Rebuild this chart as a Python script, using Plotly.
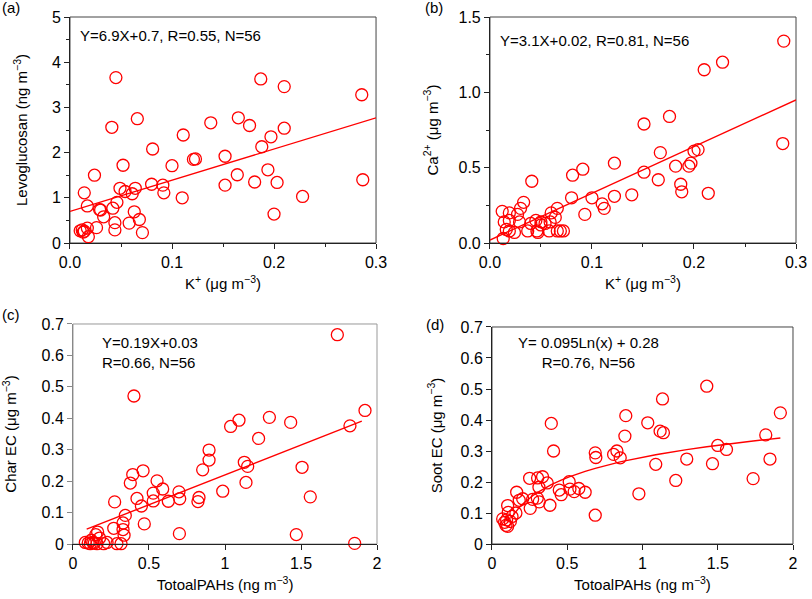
import numpy as np
import plotly.graph_objects as go

# (a) K+ vs Levoglucosan
k_a = [0.045, 0.187, 0.210, 0.286, 0.041, 0.066, 0.138, 0.165, 0.176, 0.111,
       0.197, 0.210, 0.081, 0.188, 0.152, 0.121, 0.123, 0.100, 0.052, 0.024,
       0.164, 0.194, 0.181, 0.203, 0.152, 0.287, 0.228, 0.200, 0.110, 0.092,
       0.091, 0.080, 0.064, 0.061, 0.054, 0.049, 0.014, 0.017, 0.029, 0.033,
       0.042, 0.046, 0.063, 0.068, 0.058, 0.044, 0.044, 0.071, 0.026, 0.017,
       0.012, 0.014, 0.018, 0.010, 0.013, 0.030]
levo = [3.66, 3.63, 3.46, 3.28, 2.56, 2.75, 2.66, 2.77, 2.60, 2.39,
        2.35, 2.54, 2.08, 2.13, 1.92, 1.85, 1.86, 1.71, 1.72, 1.50,
        1.51, 1.62, 1.35, 1.34, 1.28, 1.40, 1.03, 0.64, 1.00, 1.11,
        1.28, 1.30, 1.21, 1.09, 1.14, 1.21, 1.11, 0.82, 0.74, 0.58,
        0.77, 0.90, 0.69, 0.52, 0.44, 0.45, 0.29, 0.23, 0.34, 0.33,
        0.29, 0.26, 0.14, 0.27, 0.24, 0.73]

# (b) K+ vs Ca2+
k_b = [0.288, 0.228, 0.210, 0.176, 0.151, 0.287, 0.167, 0.200, 0.204, 0.197,
       0.195, 0.182, 0.151, 0.165, 0.187, 0.188, 0.214, 0.122, 0.122, 0.139,
       0.091, 0.081, 0.100, 0.110, 0.112, 0.093, 0.080, 0.041, 0.033, 0.030,
       0.027, 0.066, 0.060, 0.064, 0.012, 0.019, 0.014, 0.019, 0.029, 0.016,
       0.024, 0.013, 0.040, 0.045, 0.050, 0.054, 0.059, 0.037, 0.046, 0.047,
       0.058, 0.066, 0.069, 0.072, 0.019, 0.050]
ca = [1.34, 1.20, 1.15, 0.84, 0.79, 0.66, 0.60, 0.61, 0.62, 0.53,
      0.51, 0.51, 0.47, 0.42, 0.39, 0.34, 0.33, 0.53, 0.31, 0.32,
      0.49, 0.45, 0.30, 0.26, 0.23, 0.19, 0.30, 0.41, 0.27, 0.23,
      0.19, 0.23, 0.20, 0.17, 0.21, 0.20, 0.14, 0.15, 0.14, 0.09,
      0.07, 0.03, 0.13, 0.15, 0.14, 0.13, 0.14, 0.08, 0.08, 0.07,
      0.08, 0.08, 0.08, 0.08, 0.08, 0.12]

# (c) Total PAHs vs Char EC
pah_c = [1.739, 0.401, 1.921, 1.822, 1.432, 1.292, 1.092, 1.037, 1.221, 0.895,
         0.895, 0.853, 1.127, 1.149, 1.138, 1.507, 1.561, 1.469, 1.853, 0.985,
         0.700, 0.697, 0.702, 0.829, 0.822, 0.627, 0.590, 0.553, 0.528, 0.528,
         0.461, 0.393, 0.377, 0.421, 0.450, 0.469, 0.274, 0.344, 0.329, 0.329,
         0.336, 0.268, 0.162, 0.175, 0.081, 0.114, 0.140, 0.158, 0.202, 0.224,
         0.289, 0.316, 0.130, 0.100, 0.120, 0.150]
char_ec = [0.666, 0.471, 0.425, 0.376, 0.387, 0.403, 0.394, 0.374, 0.336, 0.299,
           0.267, 0.236, 0.260, 0.247, 0.196, 0.244, 0.150, 0.030, 0.002, 0.168,
           0.033, 0.166, 0.144, 0.148, 0.135, 0.136, 0.175, 0.201, 0.162, 0.137,
           0.233, 0.221, 0.194, 0.145, 0.121, 0.064, 0.134, 0.091, 0.067, 0.046,
           0.028, 0.050, 0.038, 0.019, 0.005, 0.001, 0.003, 0.001, 0.001, 0.005,
           0.001, 0.001, 0.005, 0.003, 0.012, 0.030]

# (d) Total PAHs vs Soot EC
pah_d = [1.427, 1.133, 1.916, 0.394, 0.889, 1.035, 1.117, 1.139, 0.883, 1.819,
         0.409, 0.686, 0.690, 0.830, 0.808, 0.852, 1.500, 1.558, 1.088, 1.294,
         1.465, 1.847, 1.735, 1.221, 0.976, 0.686, 0.513, 0.518, 0.546, 0.577,
         0.619, 0.447, 0.460, 0.367, 0.336, 0.303, 0.250, 0.312, 0.385, 0.314,
         0.301, 0.270, 0.254, 0.204, 0.181, 0.164, 0.159, 0.133, 0.104, 0.108,
         0.071, 0.097, 0.093, 0.122, 0.104, 0.084]
soot_ec = [0.509, 0.468, 0.423, 0.389, 0.414, 0.391, 0.364, 0.359, 0.348, 0.352,
           0.300, 0.294, 0.279, 0.300, 0.289, 0.278, 0.318, 0.305, 0.257, 0.274,
           0.259, 0.274, 0.211, 0.205, 0.162, 0.093, 0.201, 0.177, 0.169, 0.179,
           0.167, 0.174, 0.159, 0.197, 0.217, 0.213, 0.212, 0.183, 0.125, 0.136,
           0.148, 0.144, 0.115, 0.146, 0.141, 0.167, 0.100, 0.089, 0.124, 0.102,
           0.081, 0.078, 0.060, 0.073, 0.057, 0.070]

RED = "#ff0000"
FONT = "Liberation Sans, Arial, sans-serif"

fig = go.Figure()


def add_points(x, y, n):
    fig.add_trace(go.Scatter(
        x=x, y=y, mode="markers", xaxis="x" + n, yaxis="y" + n,
        marker=dict(symbol="circle-open", size=12, color=RED, line=dict(width=1.3)),
        showlegend=False, cliponaxis=False))


def add_fit(x, y, n):
    fig.add_trace(go.Scatter(
        x=x, y=y, mode="lines", xaxis="x" + n, yaxis="y" + n,
        line=dict(color=RED, width=1.4), showlegend=False))


add_points(k_a, levo, "")
add_points(k_b, ca, "2")
add_points(pah_c, char_ec, "3")
add_points(pah_d, soot_ec, "4")

# fitted lines from the equations printed on each panel
xa = np.array([0.0, 0.3])
add_fit(xa, 6.9 * xa + 0.7, "")
xb = np.array([0.0, 0.3])
add_fit(xb, 3.1 * xb + 0.02, "2")
xc = np.array([0.09, 1.9])
add_fit(xc, 0.19 * xc + 0.03, "3")
xd = np.sort(np.array([p for p in pah_d if p >= 0.13]))
add_fit(xd, 0.095 * np.log(xd) + 0.28, "4")


def axis(domain, rng, vals, text, title, color, minor=None, standoff=8, anchor=None):
    d = dict(domain=domain, range=rng, tickmode="array", tickvals=vals, ticktext=text,
             ticks="outside", ticklen=5, tickwidth=1, tickcolor=color,
             showline=True, linecolor=color, linewidth=1, showgrid=False, zeroline=False,
             automargin=False,
             tickfont=dict(size=16, color="black", family=FONT),
             title=dict(text=title, font=dict(size=15, color="black", family=FONT),
                        standoff=standoff),
             anchor=anchor)
    if minor is not None:
        d["minor"] = dict(ticks="outside", ticklen=3, dtick=minor, tick0=0,
                          tickcolor=color, showgrid=False)
    return d


K_TITLE = "K<sup>+</sup> (μg m<sup>−3</sup>)"
PAH_TITLE = "TotoalPAHs (ng m<sup>−3</sup>)"

fig.update_layout(
    width=812, height=599, margin=dict(l=0, r=0, t=0, b=0, autoexpand=False),
    plot_bgcolor="white", paper_bgcolor="white",
    font=dict(family=FONT, size=15, color="black"),
    xaxis=axis([0.0862, 0.4631], [0, 0.3], [0, 0.1, 0.2, 0.3], ["0.0", "0.1", "0.2", "0.3"],
               K_TITLE, "#222", minor=0.05, anchor="y"),
    yaxis=axis([0.5943, 0.9716], [0, 5], [0, 1, 2, 3, 4, 5], ["0", "1", "2", "3", "4", "5"],
               "Levoglucosan (ng m<sup>−3</sup>)", "#222", minor=0.5, standoff=20, anchor="x"),
    xaxis2=axis([0.6034, 0.9803], [0, 0.3], [0, 0.1, 0.2, 0.3], ["0.0", "0.1", "0.2", "0.3"],
                K_TITLE, "#222", minor=0.05, anchor="y2"),
    yaxis2=axis([0.5943, 0.9716], [0, 1.5], [0, 0.5, 1.0, 1.5], ["0.0", "0.5", "1.0", "1.5"],
                "Ca<sup>2+</sup> (μg m<sup>−3</sup>)", "#222", minor=0.25, standoff=16, anchor="x2"),
    xaxis3=axis([0.0899, 0.4643], [0, 2], [0, 0.5, 1, 1.5, 2], ["0", "0.5", "1", "1.5", "2"],
                PAH_TITLE, "#222", anchor="y3"),
    yaxis3=axis([0.0918, 0.4591], [0, 0.7], [0, 0.1, 0.2, 0.3, 0.4, 0.5, 0.6, 0.7],
                ["0", "0.1", "0.2", "0.3", "0.4", "0.5", "0.6", "0.7"],
                "Char EC (μg m<sup>−3</sup>)", "#888", standoff=22, anchor="x3"),
    xaxis4=axis([0.6059, 0.9766], [0, 2], [0, 0.5, 1, 1.5, 2], ["0", "0.5", "1", "1.5", "2"],
                PAH_TITLE, "#222", anchor="y4"),
    yaxis4=axis([0.0918, 0.4541], [0, 0.7], [0, 0.1, 0.2, 0.3, 0.4, 0.5, 0.6, 0.7],
                ["0", "0.1", "0.2", "0.3", "0.4", "0.5", "0.6", "0.7"],
                "Soot EC (μg m<sup>−3</sup>)", "#222", standoff=14, anchor="x4"),
)

# frame around each panel
for n, col in [("", "#444"), ("2", "#444"), ("3", "#999"), ("4", "#444")]:
    fig.add_shape(type="rect", xref="x" + n + " domain", yref="y" + n + " domain",
                  x0=0, x1=1, y0=0, y1=1, line=dict(color=col, width=1), layer="below")

notes = [
    ("(a)", 0.0, 0.987, "left", "middle"),
    ("(b)", 0.521, 0.987, "left", "middle"),
    ("(c)", 0.0, 0.475, "left", "middle"),
    ("(d)", 0.522, 0.458, "left", "middle"),
    ("Y=6.9X+0.7, R=0.55, N=56", 0.096, 0.940, "left", "middle"),
    ("Y=3.1X+0.02, R=0.81, N=56", 0.613, 0.932, "left", "middle"),
]
for txt, x, y, xa_, ya_ in notes:
    fig.add_annotation(text=txt, x=x, y=y, xref="paper", yref="paper", showarrow=False,
                       xanchor=xa_, yanchor=ya_, font=dict(size=15, family=FONT, color="black"))

fig.add_annotation(text="Y=0.19X+0.03<br>R=0.66, N=56", x=0.123, y=1 - 352.5 / 599,
                   xref="paper", yref="paper", showarrow=False, xanchor="left", align="left",
                   yanchor="middle", font=dict(size=15, family=FONT, color="black"))
fig.add_annotation(text="Y= 0.095Ln(x) + 0.28<br>R=0.76, N=56", x=588 / 812, y=1 - 352.5 / 599,
                   xref="paper", yref="paper", showarrow=False, xanchor="center", align="center",
                   yanchor="middle", font=dict(size=15, family=FONT, color="black"))

# the page body has a default 8px margin; drop it so the figure sits at the top-left corner
fig.write_html("out.html", config={"displayModeBar": False},
               post_script="document.body.style.margin='0';")
